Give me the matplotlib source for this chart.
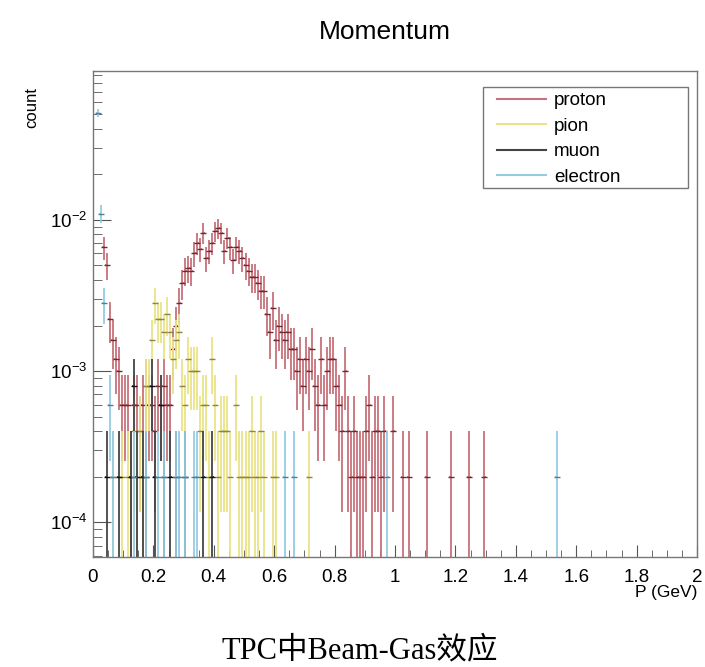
import numpy as np
import matplotlib.pyplot as plt
from matplotlib.lines import Line2D
from matplotlib.patches import Rectangle
from matplotlib.ticker import MultipleLocator, LogLocator, NullFormatter, FuncFormatter

plt.rcParams['font.family'] = ['Liberation Sans', 'DejaVu Sans']
plt.rcParams['mathtext.default'] = 'regular'

# histogram: 200 bins of 0.01 GeV, one entry = 2e-4 of the normalised count
n_bins = 200
bin_width = 0.01
unit = 2e-4

proton_counts = [
    0, 0, 0, 33, 25, 11, 8, 6, 5, 3,
    3, 3, 1, 3, 3, 2, 3, 4, 3, 3,
    2, 4, 3, 4, 3, 3, 7, 10, 14, 19,
    23, 24, 23, 30, 35, 32, 41, 28, 31, 35,
    42, 44, 41, 31, 38, 33, 27, 33, 31, 28,
    25, 23, 21, 21, 19, 17, 17, 12, 9, 13,
    8, 10, 9, 8, 9, 7, 7, 5, 6, 4,
    6, 5, 7, 4, 3, 6, 3, 5, 6, 6,
    4, 3, 2, 5, 2, 1, 2, 1, 1, 1,
    2, 3, 1, 2, 2, 1, 2, 0, 0, 2,
    0, 0, 1, 0, 1, 0, 0, 0, 0, 0,
    1, 0, 0, 0, 0, 0, 0, 0, 1, 0,
    0, 0, 0, 0, 1, 0, 0, 0, 0, 1,
]
pion_counts = [
    0, 0, 0, 0, 0, 0, 1, 0, 0, 1,
    0, 1, 0, 2, 1, 2, 1, 4, 4, 8,
    14, 11, 11, 9, 12, 9, 6, 8, 9, 4,
    3, 6, 5, 5, 5, 2, 3, 3, 1, 6,
    3, 1, 2, 2, 2, 1, 0, 3, 1, 1,
    1, 1, 2, 1, 1, 2, 1, 0, 0, 1,
    1, 0, 0, 0, 0, 0, 0, 0, 0, 0,
    0, 1,
]
muon_counts = [
    0, 0, 0, 0, 1, 0, 0, 0, 1, 0,
    0, 0, 1, 4, 1, 0, 1, 1, 0, 4,
    1, 0, 3, 1, 0, 1, 0, 1, 0, 0,
    1, 0, 0, 0, 0, 0, 1, 0, 0, 1,
]
electron_counts = [
    0, 254, 55, 14, 0, 3, 1, 0, 0, 0,
    0, 0, 0, 1, 0, 0, 0, 1, 0, 0,
    0, 1, 0, 1, 0, 0, 0, 1, 1, 0,
    1, 0, 0, 1, 1, 0, 0, 0, 0, 0,
    0, 0, 0, 0, 0, 0, 0, 0, 0, 0,
    0, 0, 0, 0, 0, 0, 0, 0, 0, 0,
    0, 0, 0, 1, 0, 0, 1, 0, 0, 0,
    0, 0, 0, 0, 0, 0, 0, 0, 0, 0,
    0, 0, 0, 0, 0, 0, 0, 0, 0, 0,
    0, 0, 0, 0, 0, 0, 0, 1, 0, 0,
    0, 0, 0, 0, 0, 0, 0, 0, 0, 0,
    0, 0, 0, 0, 0, 0, 0, 0, 0, 0,
    0, 0, 0, 0, 0, 0, 0, 0, 0, 0,
    0, 0, 0, 0, 0, 0, 0, 0, 0, 0,
    0, 0, 0, 0, 0, 0, 0, 0, 0, 0,
    0, 0, 0, 1,
]

species = ['proton', 'pion', 'muon', 'electron']
colors = ['#c8727c', '#ebe386', '#444444', '#96cbe2']
mark_colors = ['#6e2a30', '#8c8646', '#111111', '#4f7f93']

fig = plt.figure(figsize=(7.05, 6.67), dpi=100)
ax = fig.add_axes([93/705, 1-557/667, 604/705, 486/667])

centers = (np.arange(n_bins) + 0.5) * bin_width
for counts, col, mcol in zip([proton_counts, pion_counts, muon_counts, electron_counts],
                             colors, mark_colors):
    n = np.zeros(n_bins)
    n[:len(counts)] = counts
    m = n > 0
    y = n[m] * unit
    err = np.sqrt(n[m]) * unit
    lo = np.minimum(err, y - 1e-7)
    ax.errorbar(centers[m], y, yerr=[lo, err], xerr=bin_width/2, fmt='none',
                ecolor=col, elinewidth=1.3)
    ax.plot(centers[m], y, ls='none', marker='_', ms=4, mec=mcol, mew=1.0)

ax.set_xlim(0, 2)
ax.set_yscale('log')
ax.set_ylim(5.9e-5, 0.0963)

ax.xaxis.set_major_locator(MultipleLocator(0.2))
ax.xaxis.set_minor_locator(MultipleLocator(0.05))
ax.xaxis.set_major_formatter(FuncFormatter(lambda v, p: '%g' % round(v, 2)))
ax.yaxis.set_major_locator(LogLocator(base=10))
ax.yaxis.set_minor_locator(LogLocator(base=10, subs=np.arange(2, 10)))
ax.yaxis.set_minor_formatter(NullFormatter())

ax.tick_params(which='both', direction='in', top=False, right=False,
               color='#555555', labelsize=13.5)
ax.tick_params(axis='x', which='major', length=9, pad=9)
ax.tick_params(axis='x', which='minor', length=5)
ax.tick_params(axis='y', which='major', length=13, pad=4)
ax.tick_params(axis='y', which='minor', length=6.5)
for s in ax.spines.values():
    s.set_color('#777777')
    s.set_linewidth(1.0)

# legend box drawn separately so the entries can sit where ROOT puts them
ax.add_patch(Rectangle(((483-93)/604, 1-(188-71)/486), 205/604, 101/486,
                       transform=ax.transAxes, fill=True, facecolor='white',
                       edgecolor='#777777', lw=1.0, zorder=4))
handles = [Line2D([], [], color=c, lw=1.5) for c in colors]
leg = ax.legend(handles, species, loc='upper left',
                bbox_to_anchor=((497-93)/604, 1-(92-71)/486),
                fontsize=13.5, frameon=False, handlelength=2.6,
                handletextpad=0.45, labelspacing=0.45, borderpad=0,
                borderaxespad=0)
leg.set_zorder(5)

fig.text(385/705, 1-32/667, 'Momentum', ha='center', va='center', fontsize=19)
fig.text(32/705, 1-87/667, 'count', rotation=90, ha='center', va='top', fontsize=12)
fig.text(697/705, 1-592/667, 'P (GeV)', ha='right', va='center', fontsize=12.5)
fig.text(360/705, 1-651/667, 'TPC中Beam-Gas效应', ha='center', va='center',
         fontsize=22, family=['Liberation Serif', 'Noto Sans CJK SC'])

fig.savefig('out.png', dpi=100)
